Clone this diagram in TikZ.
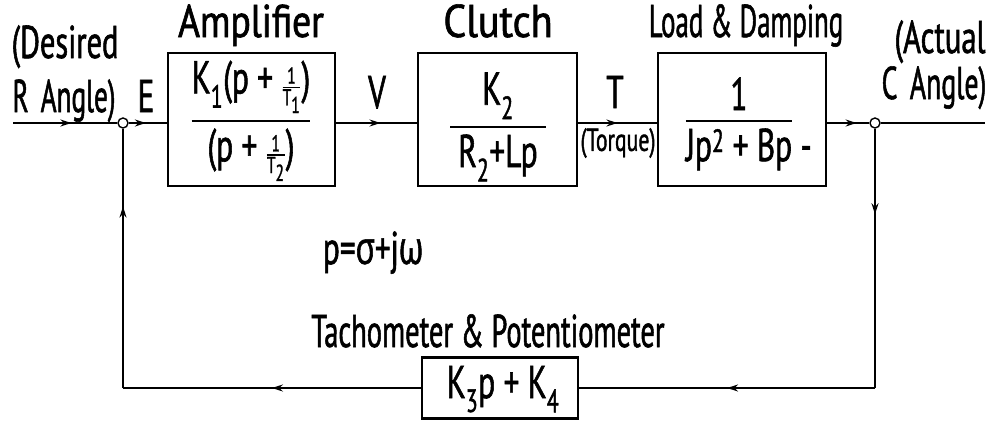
\documentclass[tikz,border=0pt]{standalone}
\usepackage{amsmath}
\usepackage{graphicx}
\usepackage{fontspec}
\setmainfont[FakeStretch=0.68,FakeBold=1.2]{PT Sans}
\newfontfamily\grk[FakeStretch=0.68,FakeBold=1.2]{Open Sans}
\newcommand{\xs}[2]{\scalebox{#1}[1]{#2}}
\usetikzlibrary{arrows.meta,decorations.markings}
\begin{document}
\begin{tikzpicture}[x=1pt,y=-1pt,
  every node/.style={font=\fontsize{46}{54}\selectfont, inner sep=0pt},
  wire/.style={line width=1.7pt},
  blockbox/.style={draw, line width=2.2pt, inner sep=0pt},
  junc/.style={draw, circle, line width=1.4pt, minimum size=10pt, inner sep=0pt, fill=white},
  smalltext/.style={font=\fontsize{32}{36}\selectfont},
  midarrow/.style={postaction={decorate}, decoration={markings, mark=at position #1 with {\arrow{Stealth[length=11pt,width=7pt]}}}},
]
\useasboundingbox (0,0) rectangle (993,423);

% blocks
\node[blockbox, minimum width=167pt, minimum height=133pt] (amp) at (251.5,119.5) {};
\node[blockbox, minimum width=159pt, minimum height=133pt] (clutch) at (497.5,119.5) {};
\node[blockbox, minimum width=168pt, minimum height=133pt] (load) at (742,119.5) {};
\node[blockbox, minimum width=156pt, minimum height=61pt] (fb) at (500,388) {};

% block contents (fraction rule on the math axis)
\node[anchor=base] (fAmp) at (251,127)
  {$\genfrac{}{}{2.2pt}{0}{\text{K}_{\text{1}}\text{(p + }\genfrac{}{}{1.3pt}{2}{\text{1}}{\text{T}_{\text{1}}}\text{)}}{\text{(p + }\genfrac{}{}{1.3pt}{2}{\text{1}}{\text{T}_{\text{2}}}\text{)}}$};
\node[anchor=base] (fClutch) at (498,133)
  {$\genfrac{}{}{2.2pt}{0}{\text{K}_{\text{2}}}{\hspace{8pt}\text{R}_{\text{2}}\text{+Lp}\hspace{8pt}}$};
\node[anchor=base] (fLoad) at (739,127)
  {$\genfrac{}{}{2.2pt}{0}{\text{1}}{\text{Jp\textsuperscript{2} + Bp\rlap{ -}}}$};
\node[anchor=base] (fFb) at (503,398) {K$_{\text{3}}$p + K$_{\text{4}}$};

% junctions and free ends
\node[junc] (jL) at (123,123) {};
\node[junc] (jR) at (875,123) {};
\coordinate (inR) at (13,123);
\coordinate (outC) at (985,123);
\coordinate (cR) at (875,388);
\coordinate (cL) at (123,388);

% connectors
\draw[wire, midarrow=0.56] (inR) -- (jL.west);
\draw[wire, midarrow=0.45] (jL.east) -- (jL -| amp.west);
\draw[wire, midarrow=0.55] (amp.east |- jL) -- (jL -| clutch.west);
\draw[wire, midarrow=0.5] (clutch.east |- jL) -- (jL -| load.west);
\draw[wire, midarrow=0.7] (load.east |- jR) -- (jR.west);
\draw[wire] (jR.east) -- (outC);
\draw[wire, midarrow=0.33] (jR.south) -- (cR);
\draw[wire, midarrow=0.5] (cR) -- (fb.east);
\draw[wire, midarrow=0.5] (fb.west) -- (cL);
\draw[wire, midarrow=0.7] (cL) -- (jL.south);

% labels
\node[anchor=base] (tAmp) at (251,37) {\xs{1.2}{Amplifier}};
\node[anchor=base] (tClutch) at (498,37) {\xs{1.28}{Clutch}};
\node[anchor=base] (tLoad) at (746,37) {\xs{0.86}{Load \& Damping}};
\node[anchor=base] (tDes) at (65,58) {\xs{0.97}{(Desired}};
\node[anchor=base] (tR) at (64,112) {\xs{0.87}{R\hspace{0.3em}Angle)}};
\node[anchor=base] (tAct) at (940,53) {\xs{0.98}{(Actual}};
\node[anchor=base] (tC) at (934,99) {\xs{0.89}{C\hspace{0.3em}Angle)}};
\node[anchor=base] (tE) at (146,112) {E};
\node[anchor=base] (tV) at (377,108) {V};
\node[anchor=base] (tT) at (615,108) {T};
\node[smalltext] (tTorque) at (618,143) {(Torque)};
\node[anchor=base] (tP) at (373,264) {p{=}{\grk σ}{+}j{\grk ω}};
\node[anchor=base] (tTach) at (488,347) {\xs{0.91}{Tachometer \& Potentiometer}};
\end{tikzpicture}
\end{document}
